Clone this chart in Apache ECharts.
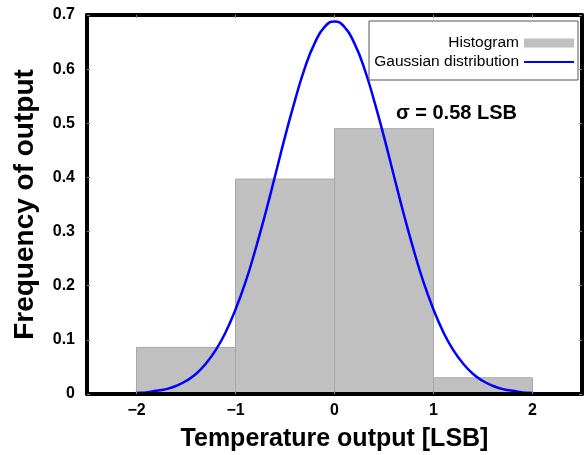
<!DOCTYPE html>
<html>
<head>
    <meta charset="utf-8">
    <title>Temperature output histogram</title>
    <script src="https://cdn.jsdelivr.net/npm/echarts@6/dist/echarts.min.js"></script>
    <style>
        body { margin: 0; background: #fff; }
        #chart { width: 585px; height: 455px; }
    </style>
</head>
<body>
<div id="chart"></div>
<script>
// histogram bins: [left edge, right edge, frequency]
const binLeft = [-2, -1, 0, 1];
const binRight = [-1, 0, 1, 2];
const binFreq = [0.086, 0.397, 0.490, 0.030];

// gaussian curve (sigma = 0.58 LSB)
const curveX = [-2.5, -2.4, -2.3, -2.2, -2.1, -2.0, -1.9, -1.8, -1.7, -1.6, -1.5, -1.4, -1.3, -1.2, -1.1,
    -1.0, -0.9, -0.8, -0.7, -0.6, -0.5, -0.4, -0.3, -0.2, -0.1, 0,
    0.1, 0.2, 0.3, 0.4, 0.5, 0.6, 0.7, 0.8, 0.9, 1.0,
    1.1, 1.2, 1.3, 1.4, 1.5, 1.6, 1.7, 1.8, 1.9, 2.0, 2.1, 2.2, 2.3, 2.4, 2.5];
const curveY = [0.000, 0.000, 0.000, 0.001, 0.001, 0.002, 0.003, 0.006, 0.009, 0.015, 0.024, 0.037, 0.056, 0.081, 0.114,
    0.156, 0.206, 0.266, 0.332, 0.403, 0.475, 0.542, 0.602, 0.648, 0.678, 0.688,
    0.678, 0.648, 0.602, 0.542, 0.475, 0.403, 0.332, 0.266, 0.206, 0.156,
    0.114, 0.081, 0.056, 0.037, 0.024, 0.015, 0.009, 0.006, 0.003, 0.002, 0.001, 0.001, 0.000, 0.000, 0.000];

const xTicks = [-2, -1, 0, 1, 2];

const FONT = 'Liberation Sans, Arial, sans-serif';

let chart = echarts.init(document.getElementById('chart'));

const tickStyle = { show: true, inside: true, length: 3, lineStyle: { color: '#888', width: 1 } };
const frameLine = { show: true, onZero: false, lineStyle: { color: '#000', width: 4 } };

let option = {
    animation: false,
    grid: { left: 87, right: 3, top: 15, bottom: 61, outerBoundsMode: 'none', containLabel: false },
    legend: {
        orient: 'vertical',
        align: 'right',
        right: 7,
        top: 21,
        padding: [13, 3, 9, 3],
        itemWidth: 50,
        itemHeight: 9,
        itemGap: 1,
        backgroundColor: '#fff',
        borderColor: '#555',
        borderWidth: 1,
        borderRadius: 0,
        textStyle: { fontFamily: FONT, fontSize: 15.5, lineHeight: 18, color: '#000', width: 147, align: 'right' },
        data: [
            { name: 'Histogram', icon: 'rect', itemStyle: { color: '#c0c0c0' } },
            { name: 'Gaussian distribution', itemStyle: { opacity: 0 } }
        ]
    },
    graphic: [{
        type: 'text',
        left: 396,
        top: 103,
        style: { text: 'σ = 0.58 LSB', font: 'bold 20px ' + FONT, fill: '#000' }
    }],
    xAxis: [{
        type: 'value',
        position: 'bottom',
        min: -2.5,
        max: 2.5,
        z: 5,
        name: 'Temperature output [LSB]',
        nameLocation: 'middle',
        nameGap: 33,
        nameTextStyle: { fontFamily: FONT, fontSize: 25, fontWeight: 'bold', color: '#000' },
        axisLine: frameLine,
        axisTick: Object.assign({ customValues: xTicks }, tickStyle),
        axisLabel: { customValues: xTicks, margin: 9, fontFamily: FONT, fontSize: 16, fontWeight: 'bold', color: '#000',
            formatter: v => (v < 0 ? '\u2212' + (-v) : String(v)) },
        splitLine: { show: false }
    }, {
        type: 'value',
        position: 'top',
        min: -2.5,
        max: 2.5,
        z: 5,
        axisLine: frameLine,
        axisTick: Object.assign({ customValues: xTicks }, tickStyle),
        axisLabel: { show: false },
        splitLine: { show: false }
    }],
    yAxis: [{
        type: 'value',
        position: 'left',
        min: 0,
        max: 0.7,
        interval: 0.1,
        z: 5,
        name: 'Frequency of output',
        nameLocation: 'middle',
        nameGap: 48,
        nameTextStyle: { fontFamily: FONT, fontSize: 28, fontWeight: 'bold', color: '#000' },
        axisLine: frameLine,
        axisTick: tickStyle,
        axisLabel: { margin: 12, fontFamily: FONT, fontSize: 16, fontWeight: 'bold', color: '#000',
            formatter: v => (v === 0 ? '0' : v.toFixed(1)) },
        splitLine: { show: false }
    }, {
        type: 'value',
        position: 'right',
        min: 0,
        max: 0.7,
        interval: 0.1,
        z: 5,
        axisLine: frameLine,
        axisTick: tickStyle,
        axisLabel: { show: false },
        splitLine: { show: false }
    }],
    series: [{
        name: 'Histogram',
        type: 'custom',
        xAxisIndex: 0,
        yAxisIndex: 0,
        z: 2,
        data: binLeft.map((l, i) => [l, binRight[i], binFreq[i]]),
        encode: { x: [0, 1], y: 2 },
        renderItem: function (params, api) {
            const p0 = api.coord([api.value(0), api.value(2)]);
            const p1 = api.coord([api.value(1), 0]);
            return {
                type: 'rect',
                shape: { x: p0[0], y: p0[1], width: p1[0] - p0[0], height: p1[1] - p0[1] },
                style: { fill: '#c0c0c0', stroke: '#a8a8a8', lineWidth: 1 }
            };
        }
    }, {
        name: 'Gaussian distribution',
        type: 'line',
        xAxisIndex: 0,
        yAxisIndex: 0,
        z: 3,
        smooth: true,
        symbol: 'none',
        data: curveX.map((x, i) => [x, curveY[i]]),
        lineStyle: { color: '#0000ff', width: 2.5 },
        itemStyle: { color: '#0000ff' }
    }]
};

chart.setOption(option);
</script>
</body>
</html>
